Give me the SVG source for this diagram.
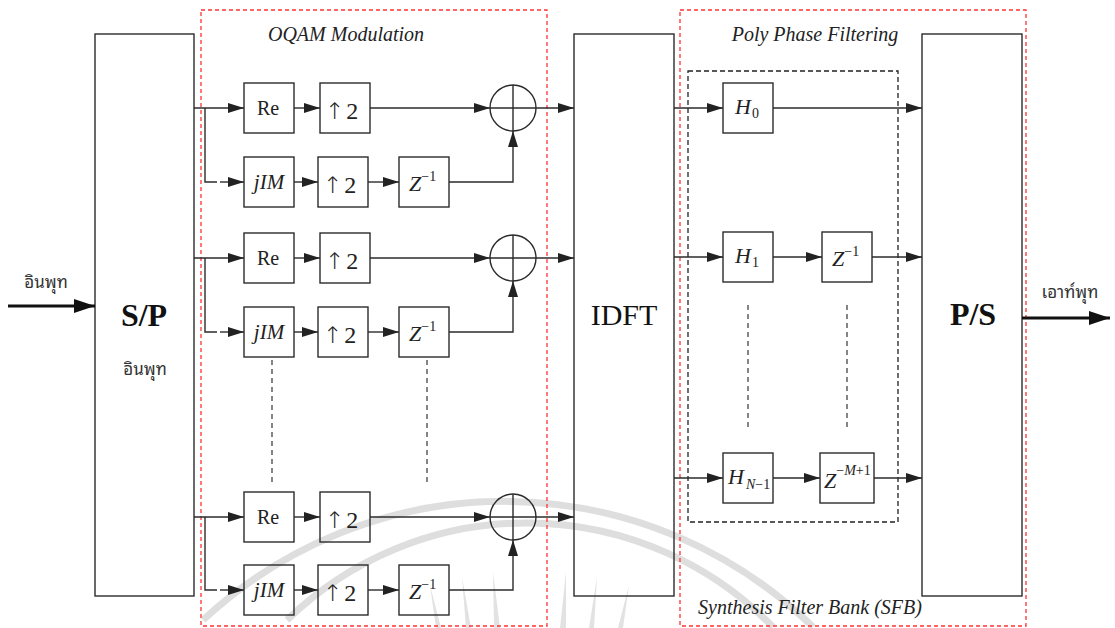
<svg xmlns="http://www.w3.org/2000/svg" width="1115" height="628" viewBox="0 0 1115 628">
  <style>
    .blk { fill: none; stroke: #2b2b2b; stroke-width: 1.4; }
    .wire { fill: none; stroke: #2b2b2b; stroke-width: 1.4; }
    .thick { fill: none; stroke: #111; stroke-width: 3; }
    .zone { fill: none; stroke: #ff3333; stroke-width: 1.3; stroke-dasharray: 4 3; }
    .bank { fill: none; stroke: #222; stroke-width: 1.3; stroke-dasharray: 5 3; }
    .dots { fill: none; stroke: #444; stroke-width: 1.3; stroke-dasharray: 5 4; }
    .wm { fill: none; stroke: #dedede; stroke-width: 7; }
    .ray { fill: #e2e2e2; stroke: none; }
    text { font-family: "Liberation Serif", "Times New Roman", serif; fill: #222; }
    .lbl { font-size: 20px; font-style: italic; text-anchor: middle; }
    .big { font-size: 32px; font-weight: bold; text-anchor: middle; fill: #111; }
    .mid { font-size: 30px; text-anchor: middle; fill: #111; }
    .thai { font-family: "Noto Sans Thai Looped", "Noto Serif Thai", "Noto Sans Thai", "Noto Sans", "DejaVu Sans", sans-serif; font-size: 17px; text-anchor: middle; fill: #333; }
    .re { font-size: 20px; text-anchor: middle; }
    .up { font-size: 24px; }
    .arr { font-family: "DejaVu Sans", sans-serif; font-weight: 200; font-size: 23px; }
    .it { font-size: 22px; font-style: italic; }
    .jim { font-size: 21px; font-style: italic; text-anchor: middle; }
    .sup { font-size: 14px; font-style: normal; }
    .supi { font-size: 14px; font-style: italic; }
  </style>
  <defs>
    <marker id="ah" viewBox="0 0 16 10" refX="16" refY="5" markerWidth="16" markerHeight="10" markerUnits="userSpaceOnUse" orient="auto">
      <path d="M0,0 L16,5 L0,10 z" fill="#222"/>
    </marker>
    <marker id="ahb" viewBox="0 0 21 14" refX="21" refY="7" markerWidth="21" markerHeight="14" markerUnits="userSpaceOnUse" orient="auto">
      <path d="M0,0 L21,7 L0,14 z" fill="#111"/>
    </marker>
  </defs>

  <rect width="1115" height="628" fill="#ffffff"/>

  <!-- faint background emblem -->
  <g id="watermark">
    <path class="wm" d="M203,620 A442,442 0 0 1 813,627"/>
    <path class="wm" d="M287,620 A344,344 0 0 1 773,627"/>
    <path class="ray" d="M436,628 L430,585 L441,628 z"/>
    <path class="ray" d="M466,628 L462,577 L471,628 z"/>
    <path class="ray" d="M494,628 L493,572 L500,628 z"/>
    <path class="ray" d="M560,628 L566,572 L566,628 z"/>
    <path class="ray" d="M589,628 L597,577 L594,628 z"/>
    <path class="ray" d="M618,628 L629,585 L623,628 z"/>
  </g>

  <!-- section frames -->
  <g id="frames">
    <rect class="zone" x="201" y="10" width="346" height="616"/>
    <rect class="zone" x="680" y="10" width="346" height="616"/>
    <rect class="bank" x="688" y="71" width="210" height="451"/>
    <text class="lbl" x="346" y="41">OQAM Modulation</text>
    <text class="lbl" x="815" y="41">Poly Phase Filtering</text>
    <text class="lbl" x="810" y="614">Synthesis Filter Bank (SFB)</text>
  </g>

  <!-- serial to parallel -->
  <g id="sp">
    <rect class="blk" x="95" y="34" width="99" height="562"/>
    <text class="big" x="144" y="326">S/P</text>
    <text class="thai" x="145" y="375">อินพุท</text>
  </g>

  <!-- IDFT -->
  <g id="idft">
    <rect class="blk" x="574" y="34" width="100" height="562"/>
    <text class="mid" x="624" y="325">IDFT</text>
  </g>

  <!-- parallel to serial -->
  <g id="ps">
    <rect class="blk" x="922" y="34" width="100" height="562"/>
    <text class="big" x="973" y="325">P/S</text>
  </g>

  <!-- OQAM branch 0 -->
  <g id="re0"><rect class="blk" x="244" y="83" width="50" height="50"/><text class="re" x="268" y="115">Re</text></g>
  <g id="up0"><rect class="blk" x="320" y="83" width="50" height="50"/><text class="up" x="325" y="119"><tspan class="arr">↑</tspan><tspan dx="2">2</tspan></text></g>
  <g id="im0"><rect class="blk" x="244" y="157" width="50" height="50"/><text class="jim" x="269" y="189">jIM</text></g>
  <g id="upi0"><rect class="blk" x="318" y="157" width="50" height="50"/><text class="up" x="323" y="193"><tspan class="arr">↑</tspan><tspan dx="2">2</tspan></text></g>
  <g id="z0"><rect class="blk" x="399" y="157" width="50" height="50"/><text class="it" x="409" y="191">Z<tspan class="sup" dy="-10">−1</tspan></text></g>
  <g id="sum0"><circle class="blk" cx="513" cy="108" r="23"/><path class="blk" d="M490,108 H536 M513,85 V131"/></g>

  <!-- OQAM branch 1 -->
  <g id="re1"><rect class="blk" x="244" y="233" width="50" height="50"/><text class="re" x="268" y="265">Re</text></g>
  <g id="up1"><rect class="blk" x="320" y="233" width="50" height="50"/><text class="up" x="325" y="269"><tspan class="arr">↑</tspan><tspan dx="2">2</tspan></text></g>
  <g id="im1"><rect class="blk" x="244" y="307" width="50" height="50"/><text class="jim" x="269" y="339">jIM</text></g>
  <g id="upi1"><rect class="blk" x="318" y="307" width="50" height="50"/><text class="up" x="323" y="343"><tspan class="arr">↑</tspan><tspan dx="2">2</tspan></text></g>
  <g id="z1"><rect class="blk" x="399" y="307" width="50" height="50"/><text class="it" x="409" y="341">Z<tspan class="sup" dy="-10">−1</tspan></text></g>
  <g id="sum1"><circle class="blk" cx="513" cy="258" r="23"/><path class="blk" d="M490,258 H536 M513,235 V281"/></g>

  <!-- OQAM last branch -->
  <g id="reL"><rect class="blk" x="244" y="492" width="50" height="50"/><text class="re" x="268" y="524">Re</text></g>
  <g id="upL"><rect class="blk" x="320" y="492" width="50" height="50"/><text class="up" x="325" y="528"><tspan class="arr">↑</tspan><tspan dx="2">2</tspan></text></g>
  <g id="imL"><rect class="blk" x="244" y="565" width="50" height="50"/><text class="jim" x="269" y="597">jIM</text></g>
  <g id="upiL"><rect class="blk" x="318" y="565" width="50" height="50"/><text class="up" x="323" y="601"><tspan class="arr">↑</tspan><tspan dx="2">2</tspan></text></g>
  <g id="zL"><rect class="blk" x="399" y="565" width="50" height="50"/><text class="it" x="409" y="599">Z<tspan class="sup" dy="-10">−1</tspan></text></g>
  <g id="sumL"><circle class="blk" cx="513" cy="517" r="23"/><path class="blk" d="M490,517 H536 M513,494 V540"/></g>

  <!-- polyphase filters -->
  <g id="h0"><rect class="blk" x="723" y="83" width="50" height="50"/><text class="it" x="735" y="114">H<tspan class="sup" dx="1" dy="4">0</tspan></text></g>
  <g id="h1"><rect class="blk" x="723" y="232" width="50" height="50"/><text class="it" x="735" y="263">H<tspan class="sup" dx="1" dy="4">1</tspan></text></g>
  <g id="d1"><rect class="blk" x="822" y="232" width="50" height="50"/><text class="it" x="832" y="266">Z<tspan class="sup" dy="-10">−1</tspan></text></g>
  <g id="hN"><rect class="blk" x="723" y="453" width="50" height="50"/><text class="it" x="728" y="484">H<tspan class="supi" dx="2" dy="5">N</tspan><tspan class="sup">−1</tspan></text></g>
  <g id="dN"><rect class="blk" x="820" y="453" width="54" height="50"/><text class="it" x="824" y="488">Z<tspan class="sup" dy="-13">−</tspan><tspan class="supi">M</tspan><tspan class="sup" font-size="12">+1</tspan></text></g>

  <!-- continuation marks -->
  <g id="ellipsis">
    <line class="dots" x1="272" y1="360" x2="272" y2="484"/>
    <line class="dots" x1="427" y1="360" x2="427" y2="484"/>
    <line class="dots" x1="748" y1="305" x2="748" y2="428"/>
    <line class="dots" x1="847" y1="305" x2="847" y2="428"/>
  </g>

  <!-- connectors -->
  <g id="connectors">
    <path class="thick" d="M8,306 H95" marker-end="url(#ahb)"/>
    <text class="thai" x="46" y="288">อินพุท</text>
    <path class="thick" d="M1022,318 H1110" marker-end="url(#ahb)"/>
    <text class="thai" x="1070" y="298">เอาท์พุท</text>

    <path class="wire" d="M194,108 H244" marker-end="url(#ah)"/>
    <path class="wire" d="M205,108 V182 H217"/>
    <path class="wire" d="M220,182 H244" marker-end="url(#ah)"/>
    <path class="wire" d="M294,108 H320" marker-end="url(#ah)"/>
    <path class="wire" d="M370,108 H490" marker-end="url(#ah)"/>
    <path class="wire" d="M294,182 H318" marker-end="url(#ah)"/>
    <path class="wire" d="M368,182 H399" marker-end="url(#ah)"/>
    <path class="wire" d="M449,182 H513 V131" marker-end="url(#ah)"/>
    <path class="wire" d="M536,108 H574" marker-end="url(#ah)"/>

    <path class="wire" d="M194,258 H244" marker-end="url(#ah)"/>
    <path class="wire" d="M205,258 V332 H217"/>
    <path class="wire" d="M220,332 H244" marker-end="url(#ah)"/>
    <path class="wire" d="M294,258 H320" marker-end="url(#ah)"/>
    <path class="wire" d="M370,258 H490" marker-end="url(#ah)"/>
    <path class="wire" d="M294,332 H318" marker-end="url(#ah)"/>
    <path class="wire" d="M368,332 H399" marker-end="url(#ah)"/>
    <path class="wire" d="M449,332 H513 V281" marker-end="url(#ah)"/>
    <path class="wire" d="M536,258 H574" marker-end="url(#ah)"/>

    <path class="wire" d="M194,517 H244" marker-end="url(#ah)"/>
    <path class="wire" d="M205,517 V590 H217"/>
    <path class="wire" d="M220,590 H244" marker-end="url(#ah)"/>
    <path class="wire" d="M294,517 H320" marker-end="url(#ah)"/>
    <path class="wire" d="M370,517 H490" marker-end="url(#ah)"/>
    <path class="wire" d="M294,590 H318" marker-end="url(#ah)"/>
    <path class="wire" d="M368,590 H399" marker-end="url(#ah)"/>
    <path class="wire" d="M449,590 H513 V540" marker-end="url(#ah)"/>
    <path class="wire" d="M536,517 H574" marker-end="url(#ah)"/>

    <path class="wire" d="M674,108 H723" marker-end="url(#ah)"/>
    <path class="wire" d="M773,108 H922" marker-end="url(#ah)"/>
    <path class="wire" d="M674,257 H723" marker-end="url(#ah)"/>
    <path class="wire" d="M773,257 H822" marker-end="url(#ah)"/>
    <path class="wire" d="M872,257 H922" marker-end="url(#ah)"/>
    <path class="wire" d="M674,478 H723" marker-end="url(#ah)"/>
    <path class="wire" d="M773,478 H820" marker-end="url(#ah)"/>
    <path class="wire" d="M874,478 H922" marker-end="url(#ah)"/>
  </g>
</svg>
